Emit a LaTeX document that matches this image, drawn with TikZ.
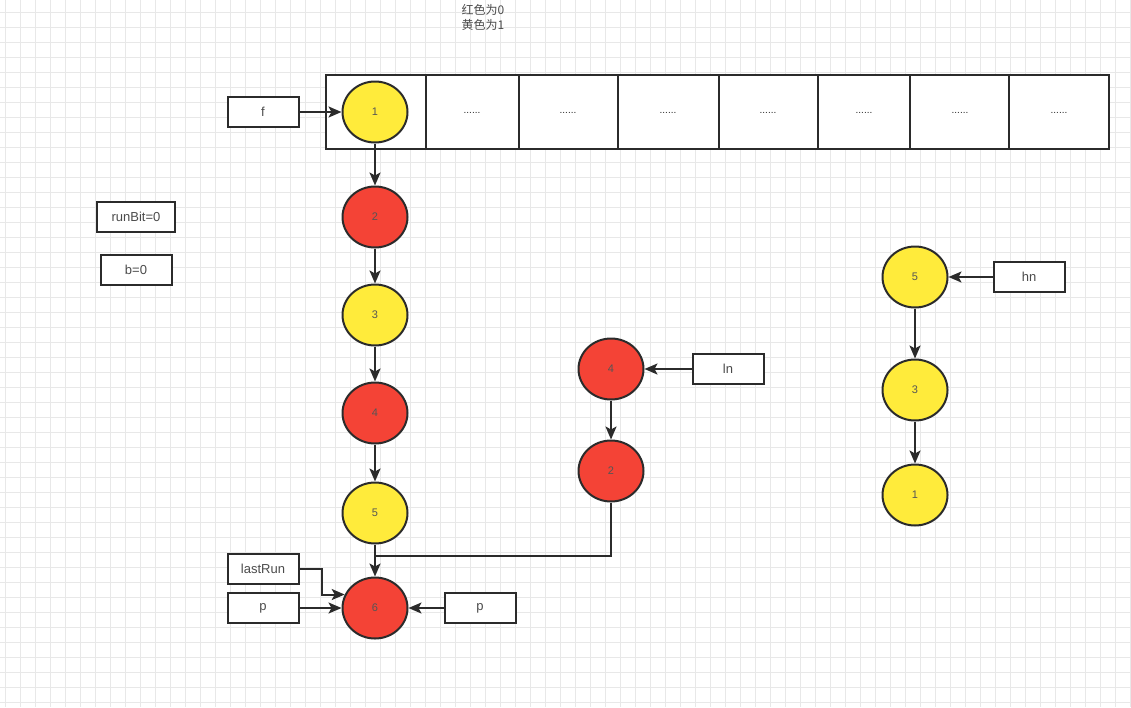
\documentclass[tikz,border=0pt]{standalone}
\usepackage{fontspec}
\setmainfont{Liberation Sans}
\newfontfamily\cjk{Noto Sans CJK SC}
\usetikzlibrary{arrows.meta,shapes.geometric}
\definecolor{hmRed}{HTML}{F44336}
\definecolor{hmYellow}{HTML}{FFEB3B}
\definecolor{hmLine}{HTML}{2B2B2B}
\definecolor{hmGrid}{HTML}{E8E8E8}

\begin{document}
\begin{tikzpicture}[x=1pt, y=-1pt,
  ball/.style={ellipse, draw=hmLine, line width=2pt, minimum width=65pt, minimum height=61pt, inner sep=0pt, text=hmLine!80, font=\fontsize{11}{13}\selectfont},
  tag/.style={draw=hmLine, line width=2pt, fill=white, minimum width=71pt, minimum height=30pt, inner sep=0pt, text=hmLine!85, font=\fontsize{13}{15}\selectfont},
  link/.style={draw=hmLine, line width=2pt, -{Stealth[length=13pt,width=11pt,inset=3pt]}},
  wire/.style={draw=hmLine, line width=2pt}]
  \useasboundingbox (0,0) rectangle (1131,707);
  % grid paper
  \fill[white] (0,0) rectangle (1131,707);
  \foreach \gx in {5,20,...,1130} \draw[hmGrid, line width=0.8pt] (\gx,0) -- (\gx,707);
  \foreach \gy in {12,27,...,706} \draw[hmGrid, line width=0.8pt] (0,\gy) -- (1131,\gy);
  % legend
  \node[align=center, font=\cjk\fontsize{12}{15}\selectfont, text=hmLine!85] (legend) at (483,17) {红色为0\\黄色为1};
  % the table
  \draw[hmLine, line width=2pt, fill=white] (326,75) rectangle (1109,149);
  \foreach \cx in {426,519,618,719,818,910,1009} \draw[hmLine, line width=2pt] (\cx,75) -- (\cx,149);
  \foreach \cx in {472,568,668,768,864,960,1059}
    \node[font=\fontsize{10}{10}\selectfont, text=hmLine] at (\cx,113) {......};
  % chain in bucket 0
  \node[ball, fill=hmYellow] (c1) at (375,112) {1};
  \node[ball, fill=hmRed] (c2) at (375,217) {2};
  \node[ball, fill=hmYellow] (c3) at (375,315) {3};
  \node[ball, fill=hmRed] (c4) at (375,413) {4};
  \node[ball, fill=hmYellow] (c5) at (375,513) {5};
  \node[ball, fill=hmRed] (c6) at (375,608) {6};
  % low list
  \node[ball, fill=hmRed] (m4) at (611,369) {4};
  \node[ball, fill=hmRed] (m2) at (611,471) {2};
  % high list
  \node[ball, fill=hmYellow] (h5) at (915,277) {5};
  \node[ball, fill=hmYellow] (h3) at (915,390) {3};
  \node[ball, fill=hmYellow] (h1) at (915,495) {1};
  % labels
  \node[tag] (f) at (263,112) {f};
  \node[tag, minimum width=78pt] (runbit) at (136,217) {runBit=0};
  \node[tag] (bzero) at (136,270) {b=0};
  \node[tag] (lastrun) at (263,569) {lastRun};
  \node[tag] (pleft) at (263,608) {p};
  \node[tag] (pright) at (480,608) {p};
  \node[tag] (ln) at (728,369) {ln};
  \node[tag] (hn) at (1029,277) {hn};
  \coordinate (join) at (375,556);
  % arrows
  \draw[link] (f) -- (c1);
  \draw[link] (c1) -- (c2);
  \draw[link] (c2) -- (c3);
  \draw[link] (c3) -- (c4);
  \draw[link] (c4) -- (c5);
  \draw[link] (c5) -- (c6);
  \draw[wire] (m2.south) |- (join);
  \draw[link] (lastrun.east) -- ++(22,0) |- (c6.156);
  \draw[link] (pleft) -- (c6);
  \draw[link] (pright) -- (c6);
  \draw[link] (ln) -- (m4);
  \draw[link] (m4) -- (m2);
  \draw[link] (hn) -- (h5);
  \draw[link] (h5) -- (h3);
  \draw[link] (h3) -- (h1);
\end{tikzpicture}
\end{document}
